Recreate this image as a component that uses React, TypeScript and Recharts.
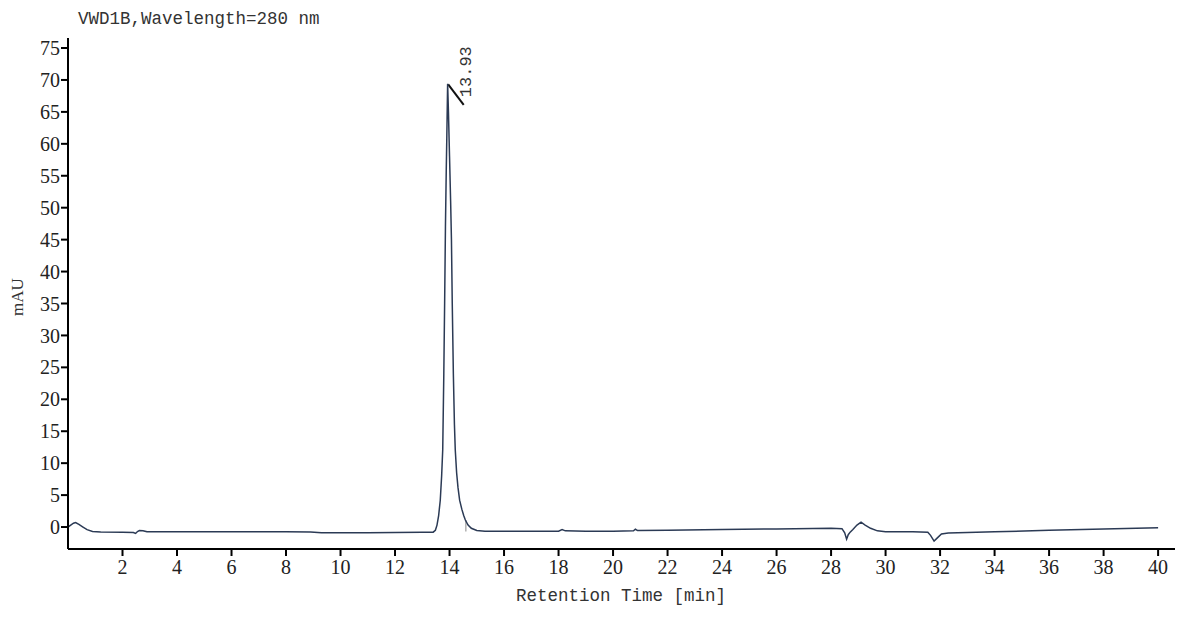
import { LineChart, Line, XAxis, YAxis, ReferenceLine, ReferenceDot } from 'recharts';

// detector trace (min, mAU)
const baselineStartTimes = [0, 0.1, 0.2, 0.28, 0.4, 0.55, 0.7, 0.9, 1.2, 2.0, 2.4, 2.48, 2.55, 2.62, 2.75, 2.9, 4, 6, 8, 8.9, 9.3, 10, 11, 12, 13, 13.4];
const baselineStartValues = [0, 0.3, 0.6, 0.7, 0.4, 0, -0.4, -0.7, -0.78, -0.8, -0.85, -1.0, -0.7, -0.55, -0.6, -0.75, -0.75, -0.75, -0.75, -0.78, -0.88, -0.9, -0.88, -0.85, -0.82, -0.8];

const peakTimes = [13.48, 13.54, 13.6, 13.66, 13.71, 13.75, 13.79, 13.82, 13.85, 13.88, 13.9, 13.93, 13.96, 14.0, 14.04, 14.07, 14.1, 14.14, 14.18, 14.21, 14.26, 14.31, 14.37, 14.45, 14.52, 14.58, 14.68, 14.8, 15.0];
const peakValues = [-0.5, 0.3, 1.8, 4.2, 8, 12.1, 24, 35, 47, 56, 61, 69.4, 65, 58, 51, 45, 35, 24, 16, 12.1, 8.5, 6.2, 4.2, 2.8, 1.8, 1.1, 0.3, -0.2, -0.55];

const baselineEndTimes = [15.3, 16, 17, 18, 18.13, 18.25, 19, 20, 20.75, 20.82, 20.9, 22, 24, 26, 28, 28.4, 28.5, 28.57, 28.63, 28.7, 28.8, 28.95, 29.1, 29.25, 29.45, 29.7, 30, 31, 31.55, 31.65, 31.78, 31.9, 32.05, 32.3, 33, 34, 36, 38, 40];
const baselineEndValues = [-0.65, -0.65, -0.68, -0.65, -0.4, -0.6, -0.65, -0.65, -0.6, -0.35, -0.55, -0.5, -0.4, -0.3, -0.2, -0.25, -0.9, -1.9, -1.2, -0.8, -0.4, 0.3, 0.75, 0.3, -0.2, -0.6, -0.73, -0.75, -0.8, -1.3, -2.2, -1.7, -1.1, -0.95, -0.85, -0.75, -0.5, -0.3, -0.1];

const xTicks = [2, 4, 6, 8, 10, 12, 14, 16, 18, 20, 22, 24, 26, 28, 30, 32, 34, 36, 38, 40];
const yTicks = [0, 5, 10, 15, 20, 25, 30, 35, 40, 45, 50, 55, 60, 65, 70, 75];

const peakLabel = '13.93';

const times = [...baselineStartTimes, ...peakTimes, ...baselineEndTimes];
const values = [...baselineStartValues, ...peakValues, ...baselineEndValues];
const data = times.map((t, i) => ({ t, mAU: values[i] }));

const X_DOMAIN: [number, number] = [0, 40.62];
const Y_DOMAIN: [number, number] = [-3.44, 76.57];

const tickFont = { fontFamily: '"Liberation Serif", serif', fontSize: 20, fill: '#222' };
const monoFont = '"Liberation Mono", "DejaVu Sans Mono", monospace';
const axisStyle = { stroke: '#000', strokeWidth: 2 };

const PeakText = (props: any) => {
  const { cx, cy } = props;
  return (
    <text
      x={cx}
      y={cy}
      transform={`rotate(-90 ${cx} ${cy})`}
      fontFamily={monoFont}
      fontSize={17}
      fill="#333"
    >
      {peakLabel}
    </text>
  );
};

export default function App() {
  return (
    <div style={{ position: 'absolute', left: 0, top: 0, width: 1200, height: 623, background: '#fff' }}>
      <div style={{ position: 'absolute', left: 78, top: 9, fontFamily: monoFont, fontSize: 17.5, color: '#333' }}>
        VWD1B,Wavelength=280 nm
      </div>
      <div
        style={{
          position: 'absolute',
          left: 18,
          top: 297,
          transform: 'translate(-50%, -50%) rotate(-90deg)',
          fontFamily: '"Liberation Serif", serif',
          fontSize: 17,
          color: '#333',
        }}
      >
        mAU
      </div>
      <div
        style={{
          position: 'absolute',
          left: 621,
          top: 586,
          transform: 'translateX(-50%)',
          fontFamily: monoFont,
          fontSize: 17.5,
          color: '#333',
          whiteSpace: 'nowrap',
        }}
      >
        Retention Time [min]
      </div>
      <LineChart width={1200} height={623} data={data} margin={{ top: 38, right: 25, bottom: 44, left: 0 }}>
        <XAxis
          dataKey="t"
          type="number"
          domain={X_DOMAIN}
          allowDataOverflow
          ticks={xTicks}
          height={30}
          tickSize={7}
          tickMargin={4}
          tick={tickFont}
          axisLine={axisStyle}
          tickLine={axisStyle}
        />
        <XAxis
          xAxisId="top"
          orientation="top"
          type="number"
          domain={X_DOMAIN}
          height={0}
          tick={false}
          tickLine={false}
          axisLine={axisStyle}
        />
        <YAxis
          type="number"
          domain={Y_DOMAIN}
          allowDataOverflow
          ticks={yTicks}
          width={68}
          tickSize={7}
          tickMargin={1}
          tick={tickFont}
          axisLine={axisStyle}
          tickLine={axisStyle}
        />
        <YAxis
          yAxisId="right"
          orientation="right"
          type="number"
          domain={Y_DOMAIN}
          width={0}
          tick={false}
          tickLine={false}
          axisLine={axisStyle}
        />
        <ReferenceLine
          segment={[{ x: 14.6, y: -0.7 }, { x: 14.6, y: 1.1 }]}
          stroke="#888"
          strokeWidth={1}
        />
        <ReferenceLine
          segment={[{ x: 13.95, y: 69.3 }, { x: 14.52, y: 66.1 }]}
          stroke="#111"
          strokeWidth={2}
        />
        <ReferenceDot x={14.77} y={67.3} r={0} shape={PeakText} />
        <Line
          dataKey="mAU"
          type="linear"
          stroke="#2b3a55"
          strokeWidth={1.5}
          dot={false}
          isAnimationActive={false}
        />
      </LineChart>
    </div>
  );
}
